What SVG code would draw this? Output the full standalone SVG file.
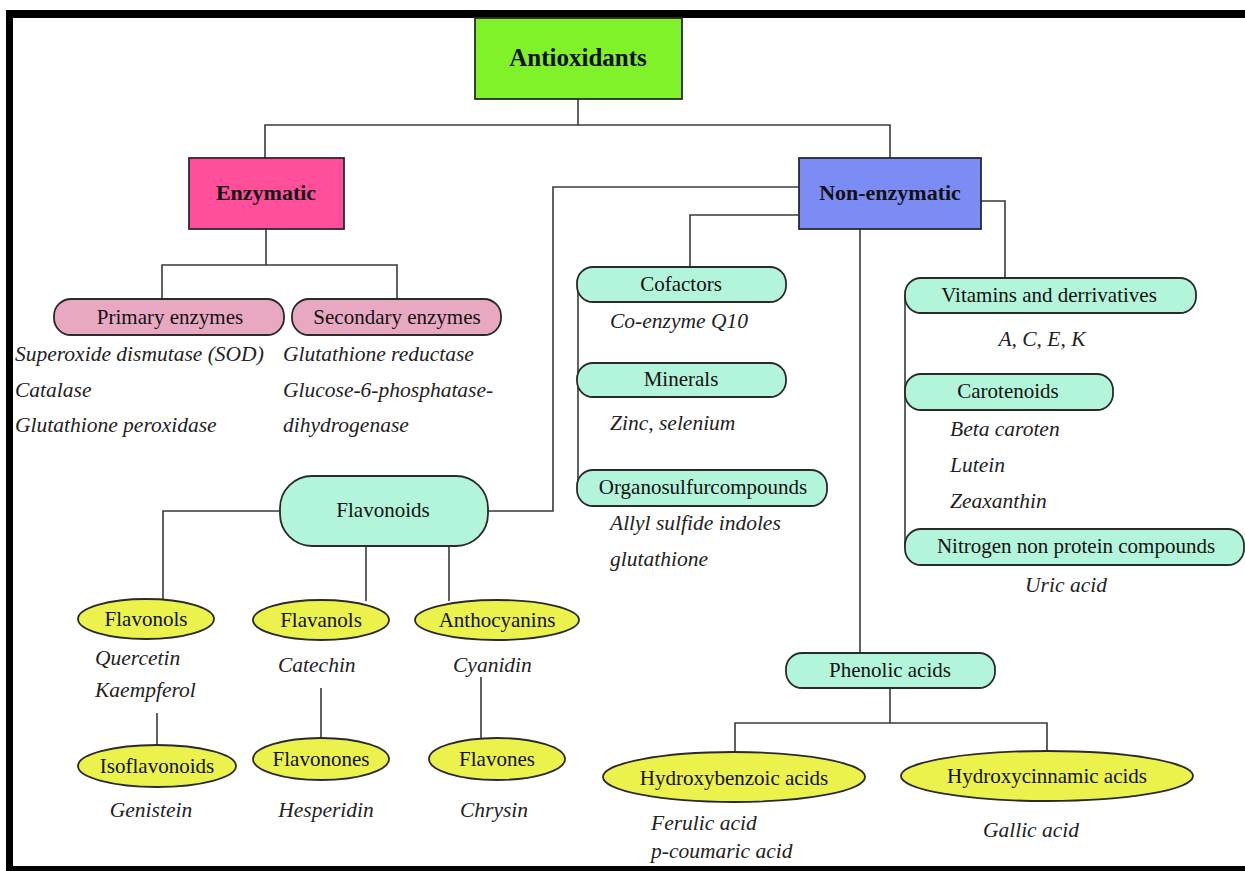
<svg xmlns="http://www.w3.org/2000/svg" width="1245" height="871" viewBox="0 0 1245 871">
<style>
  .bg { fill: #ffffff; }
  .frame { fill: #000000; }
  .conn { fill: none; stroke: #3a3a3a; stroke-width: 1.6; }
  .box { stroke: #2a2a2a; stroke-width: 1.8; }
  .green { fill: #80f229; }
  .pink { fill: #ff4f9b; }
  .blue { fill: #7b8cf4; }
  .lpink { fill: #e9a8c2; }
  .teal { fill: #b3f5db; }
  .yellow { fill: #ecf24c; }
  text { font-family: "Liberation Serif", "Times New Roman", serif; fill: #111111; }
  .title { font-weight: bold; font-size: 22px; text-anchor: middle; }
  .label { font-size: 21px; text-anchor: middle; }
  .ex { font-size: 21.5px; font-style: italic; fill: #222222; }
  .exc { font-size: 21.5px; font-style: italic; fill: #222222; text-anchor: middle; }
</style>
<rect class="bg" x="0" y="0" width="1245" height="871"/>
<g id="frame">
  <rect class="frame" x="6" y="10" width="1239" height="8"/>
  <rect class="frame" x="6" y="10" width="7" height="861"/>
  <rect class="frame" x="6" y="866" width="1239" height="5"/>
</g>
<g id="connectors">
  <path class="conn" d="M578,99 V125 M265,158 V125 H890 V158"/>
  <path class="conn" d="M266,229 V265 M162,298 V265 H397 V298"/>
  <path class="conn" d="M799,187 H553 V511 H488"/>
  <path class="conn" d="M799,215 H690 V267"/>
  <path class="conn" d="M981,201 H1005 V278"/>
  <path class="conn" d="M860,229 V653"/>
  <path class="conn" d="M578,284 V488"/>
  <path class="conn" d="M905,295 V547"/>
  <path class="conn" d="M280,511 H163 V600"/>
  <path class="conn" d="M366,546 V601 M449,546 V601"/>
  <path class="conn" d="M157,713 V746 M321,688 V739 M481,677 V739"/>
  <path class="conn" d="M890,688 V723 M735,752 V723 H1047 V752"/>
</g>
<g id="antioxidants">
  <rect class="box green" x="475" y="18" width="207" height="81"/>
  <text class="title" x="578" y="66" style="font-size:25px">Antioxidants</text>
</g>
<g id="enzymatic">
  <rect class="box pink" x="189" y="158" width="155" height="71"/>
  <text class="title" x="266" y="200">Enzymatic</text>
</g>
<g id="non-enzymatic">
  <rect class="box blue" x="799" y="158" width="182" height="71"/>
  <text class="title" x="890" y="200">Non-enzymatic</text>
</g>
<g id="primary-enzymes">
  <rect class="box lpink" x="54" y="299" width="230" height="36" rx="17"/>
  <text class="label" x="170" y="324">Primary enzymes</text>
  <text class="ex" x="15" y="361">Superoxide dismutase (SOD)</text>
  <text class="ex" x="15" y="397">Catalase</text>
  <text class="ex" x="15" y="432">Glutathione peroxidase</text>
</g>
<g id="secondary-enzymes">
  <rect class="box lpink" x="292" y="299" width="209" height="36" rx="17"/>
  <text class="label" x="397" y="324">Secondary enzymes</text>
  <text class="ex" x="283" y="361">Glutathione reductase</text>
  <text class="ex" x="283" y="397">Glucose-6-phosphatase-</text>
  <text class="ex" x="283" y="432">dihydrogenase</text>
</g>
<g id="cofactors">
  <rect class="box teal" x="577" y="267" width="209" height="35" rx="16"/>
  <text class="label" x="681" y="291">Cofactors</text>
  <text class="ex" x="610" y="328">Co-enzyme Q10</text>
</g>
<g id="minerals">
  <rect class="box teal" x="577" y="363" width="209" height="34" rx="16"/>
  <text class="label" x="681" y="386">Minerals</text>
  <text class="ex" x="610" y="430">Zinc, selenium</text>
</g>
<g id="organosulfur">
  <rect class="box teal" x="577" y="470" width="250" height="36" rx="16"/>
  <text class="label" x="703" y="494">Organosulfurcompounds</text>
  <text class="ex" x="610" y="530">Allyl sulfide indoles</text>
  <text class="ex" x="610" y="566">glutathione</text>
</g>
<g id="vitamins">
  <rect class="box teal" x="905" y="278" width="291" height="35" rx="16"/>
  <text class="label" x="1049" y="302">Vitamins and derrivatives</text>
  <text class="exc" x="1042" y="346">A, C, E, K</text>
</g>
<g id="carotenoids">
  <rect class="box teal" x="905" y="374" width="208" height="36" rx="16"/>
  <text class="label" x="1008" y="398">Carotenoids</text>
  <text class="ex" x="950" y="436">Beta caroten</text>
  <text class="ex" x="950" y="472">Lutein</text>
  <text class="ex" x="950" y="508">Zeaxanthin</text>
</g>
<g id="nitrogen">
  <rect class="box teal" x="905" y="529" width="339" height="36" rx="16"/>
  <text class="label" x="1076" y="553">Nitrogen non protein compounds</text>
  <text class="exc" x="1066" y="592">Uric acid</text>
</g>
<g id="flavonoids">
  <rect class="box teal" x="280" y="476" width="208" height="70" rx="32"/>
  <text class="label" x="383" y="517">Flavonoids</text>
</g>
<g id="flavonols">
  <ellipse class="box yellow" cx="146" cy="619" rx="68" ry="20"/>
  <text class="label" x="146" y="626">Flavonols</text>
  <text class="ex" x="95" y="665">Quercetin</text>
  <text class="ex" x="95" y="697">Kaempferol</text>
</g>
<g id="flavanols">
  <ellipse class="box yellow" cx="321" cy="620" rx="68" ry="20"/>
  <text class="label" x="321" y="627">Flavanols</text>
  <text class="ex" x="278" y="672">Catechin</text>
</g>
<g id="anthocyanins">
  <ellipse class="box yellow" cx="497" cy="620" rx="82" ry="20"/>
  <text class="label" x="497" y="627">Anthocyanins</text>
  <text class="ex" x="453" y="672">Cyanidin</text>
</g>
<g id="isoflavonoids">
  <ellipse class="box yellow" cx="157" cy="766" rx="79" ry="21"/>
  <text class="label" x="157" y="773">Isoflavonoids</text>
  <text class="exc" x="151" y="817">Genistein</text>
</g>
<g id="flavonones">
  <ellipse class="box yellow" cx="321" cy="759" rx="68" ry="21"/>
  <text class="label" x="321" y="766">Flavonones</text>
  <text class="exc" x="326" y="817">Hesperidin</text>
</g>
<g id="flavones">
  <ellipse class="box yellow" cx="497" cy="759" rx="68" ry="21"/>
  <text class="label" x="497" y="766">Flavones</text>
  <text class="exc" x="494" y="817">Chrysin</text>
</g>
<g id="phenolic-acids">
  <rect class="box teal" x="786" y="653" width="209" height="35" rx="16"/>
  <text class="label" x="890" y="677">Phenolic acids</text>
</g>
<g id="hydroxybenzoic">
  <ellipse class="box yellow" cx="734" cy="777" rx="131" ry="25"/>
  <text class="label" x="734" y="785">Hydroxybenzoic acids</text>
  <text class="ex" x="651" y="830">Ferulic acid</text>
  <text class="ex" x="651" y="858">p-coumaric acid</text>
</g>
<g id="hydroxycinnamic">
  <ellipse class="box yellow" cx="1047" cy="776" rx="146" ry="25"/>
  <text class="label" x="1047" y="783">Hydroxycinnamic acids</text>
  <text class="exc" x="1031" y="837">Gallic acid</text>
</g>
</svg>
